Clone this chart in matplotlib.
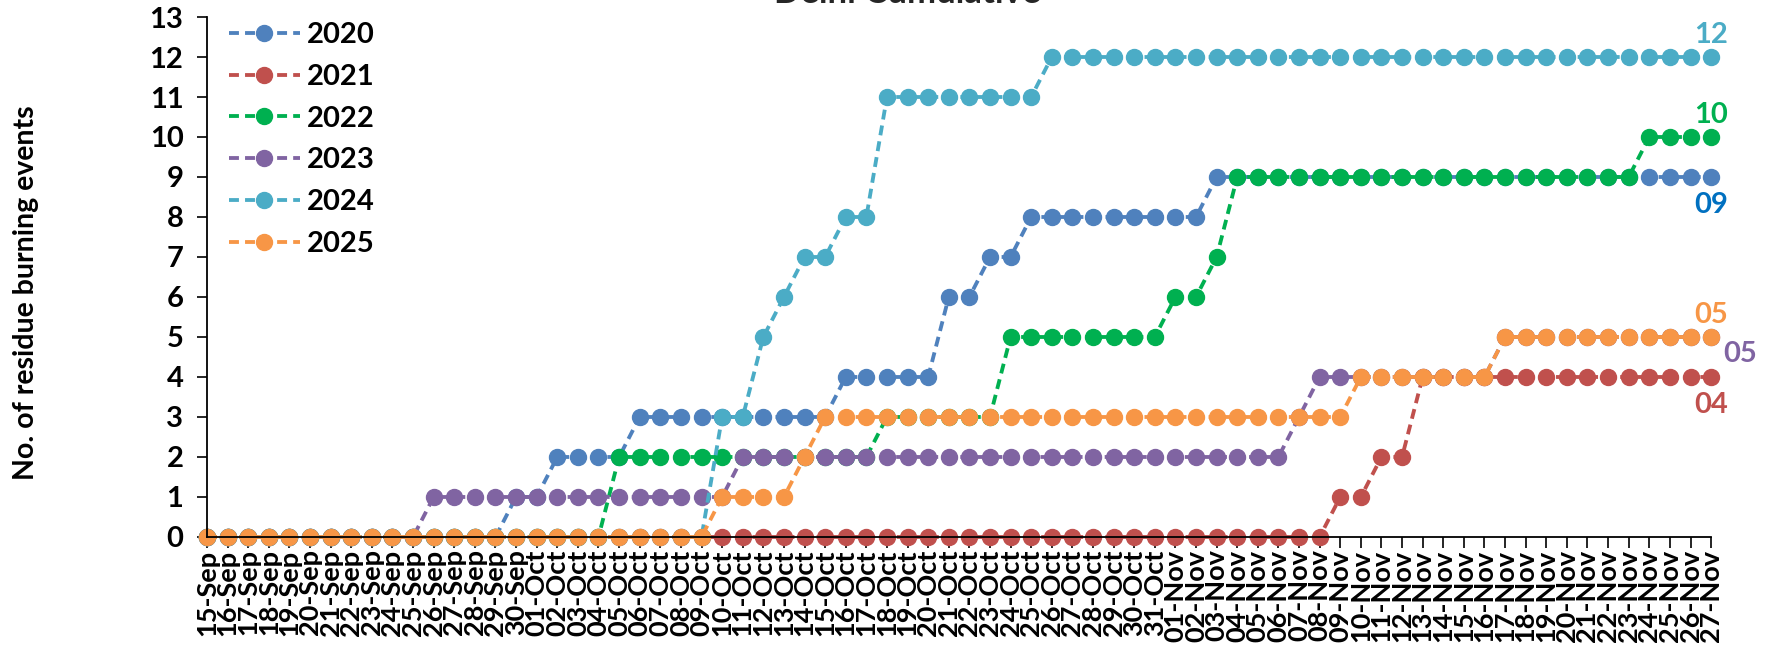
import pandas as pd
import matplotlib.pyplot as plt

plt.rcParams['font.family'] = ['Lato', 'DejaVu Sans']
plt.rcParams['font.weight'] = 'bold'

dates = pd.date_range('2025-09-15', '2025-11-27').strftime('%d-%b').tolist()

years = ['2020', '2021', '2022', '2023', '2024', '2025']

y2020 = [0, 0, 0, 0, 0, 0, 0, 0, 0, 0, 0, 0, 0, 0, 0, 1, 1, 2, 2, 2,
         2, 3, 3, 3, 3, 3, 3, 3, 3, 3, 3, 4, 4, 4, 4, 4, 6, 6, 7, 7,
         8, 8, 8, 8, 8, 8, 8, 8, 8, 9, 9, 9, 9, 9, 9, 9, 9, 9, 9, 9,
         9, 9, 9, 9, 9, 9, 9, 9, 9, 9, 9, 9, 9, 9]
y2021 = [0, 0, 0, 0, 0, 0, 0, 0, 0, 0, 0, 0, 0, 0, 0, 0, 0, 0, 0, 0,
         0, 0, 0, 0, 0, 0, 0, 0, 0, 0, 0, 0, 0, 0, 0, 0, 0, 0, 0, 0,
         0, 0, 0, 0, 0, 0, 0, 0, 0, 0, 0, 0, 0, 0, 0, 1, 1, 2, 2, 4,
         4, 4, 4, 4, 4, 4, 4, 4, 4, 4, 4, 4, 4, 4]
y2022 = [0, 0, 0, 0, 0, 0, 0, 0, 0, 0, 0, 0, 0, 0, 0, 0, 0, 0, 0, 0,
         2, 2, 2, 2, 2, 2, 2, 2, 2, 2, 2, 2, 2, 3, 3, 3, 3, 3, 3, 5,
         5, 5, 5, 5, 5, 5, 5, 6, 6, 7, 9, 9, 9, 9, 9, 9, 9, 9, 9, 9,
         9, 9, 9, 9, 9, 9, 9, 9, 9, 9, 10, 10, 10, 10]
y2023 = [0, 0, 0, 0, 0, 0, 0, 0, 0, 0, 0, 1, 1, 1, 1, 1, 1, 1, 1, 1,
         1, 1, 1, 1, 1, 1, 2, 2, 2, 2, 2, 2, 2, 2, 2, 2, 2, 2, 2, 2,
         2, 2, 2, 2, 2, 2, 2, 2, 2, 2, 2, 2, 2, 3, 4, 4, 4, 4, 4, 4,
         4, 4, 4, 5, 5, 5, 5, 5, 5, 5, 5, 5, 5, 5]
y2024 = [0, 0, 0, 0, 0, 0, 0, 0, 0, 0, 0, 0, 0, 0, 0, 0, 0, 0, 0, 0,
         0, 0, 0, 0, 0, 3, 3, 5, 6, 7, 7, 8, 8, 11, 11, 11, 11, 11, 11, 11,
         11, 12, 12, 12, 12, 12, 12, 12, 12, 12, 12, 12, 12, 12, 12, 12, 12, 12, 12, 12,
         12, 12, 12, 12, 12, 12, 12, 12, 12, 12, 12, 12, 12, 12]
y2025 = [0, 0, 0, 0, 0, 0, 0, 0, 0, 0, 0, 0, 0, 0, 0, 0, 0, 0, 0, 0,
         0, 0, 0, 0, 0, 1, 1, 1, 1, 2, 3, 3, 3, 3, 3, 3, 3, 3, 3, 3,
         3, 3, 3, 3, 3, 3, 3, 3, 3, 3, 3, 3, 3, 3, 3, 3, 4, 4, 4, 4,
         4, 4, 4, 5, 5, 5, 5, 5, 5, 5, 5, 5, 5, 5]

series = [y2020, y2021, y2022, y2023, y2024, y2025]
colors = ['#4F81BD', '#C0504D', '#00B050', '#8064A2', '#4BACC6', '#F79646']
end_colors = ['#0070C0', '#C0504D', '#00B050', '#8064A2', '#4BACC6', '#F79646']
# offsets (points) of the end-value labels
end_offsets = [(0, -20), (0, -20), (0, 16), (21, -12), (0, 16), (0, 16)]

fig = plt.figure(figsize=(17.8, 6.49), dpi=100)
ax = fig.add_axes([0.1163, 0.1726, 0.845, 0.8012])

x = list(range(len(dates)))
for yr, vals, col in zip(years, series, colors):
    ax.plot(x, vals, ls=(0, (2.6, 1.6)), lw=2.75, color=col,
            marker='o', ms=11.5, mec=col, label=yr, clip_on=False)

for vals, col, off in zip(series, end_colors, end_offsets):
    ax.annotate(f'{vals[-1]:02d}', (x[-1], vals[-1]), xytext=off,
                textcoords='offset points', ha='center', va='center',
                fontsize=21, fontweight='bold', color=col,
                annotation_clip=False)

ax.set_xlim(0, len(dates) - 1)
ax.set_ylim(0, 13)
ax.set_yticks(range(0, 14))
ax.set_xticks(x)
ax.set_xticklabels(dates, rotation=90, fontsize=19.5, fontweight='bold')

for s in ['top', 'right']:
    ax.spines[s].set_visible(False)
for s in ['left', 'bottom']:
    ax.spines[s].set_linewidth(1.3)

ax.tick_params(axis='x', length=8, width=1.2, pad=1)
ax.tick_params(axis='y', length=7, width=1.2, pad=10, labelsize=21)

ax.set_ylabel('No. of residue burning events', fontsize=20.5, fontweight='bold')
ax.yaxis.set_label_coords(-0.112, 0.47)

ax.legend(loc='upper left', bbox_to_anchor=(0.0146, 0.99), frameon=False,
          borderaxespad=0, borderpad=0, handlelength=2.42, handletextpad=0.24,
          labelspacing=0.54, prop={'size': 21, 'weight': 'bold'})

fig.text(0.51, 1 - 3 / 649, 'Delhi Cumulative', ha='center', va='baseline',
         fontsize=25, color='#262626')

fig.savefig('out.png', dpi=100)
